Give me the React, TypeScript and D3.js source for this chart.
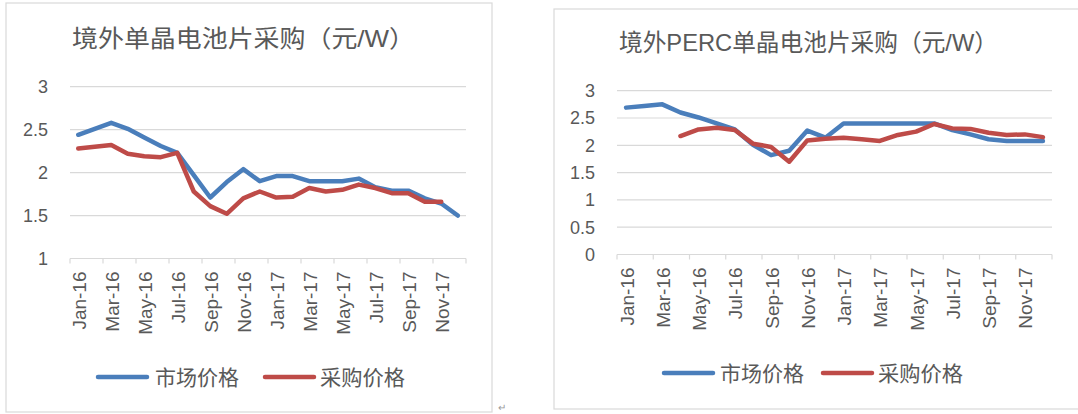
import React from "react";
import * as d3 from "d3";

const months = [
  "Jan-16", "Feb-16", "Mar-16", "Apr-16", "May-16", "Jun-16", "Jul-16", "Aug-16",
  "Sep-16", "Oct-16", "Nov-16", "Dec-16", "Jan-17", "Feb-17", "Mar-17", "Apr-17",
  "May-17", "Jun-17", "Jul-17", "Aug-17", "Sep-17", "Oct-17", "Nov-17", "Dec-17",
];

const seriesNames = ["市场价格", "采购价格"];

// Left chart: 境外单晶电池片采购
const monoMarket = [2.44, 2.51, 2.58, 2.51, 2.41, 2.31, 2.23, 1.97, 1.71, 1.89, 2.04, 1.9,
  1.96, 1.96, 1.9, 1.9, 1.9, 1.93, 1.83, 1.79, 1.79, 1.7, 1.64, 1.5];
const monoPurchase: (number | null)[] = [2.28, 2.3, 2.32, 2.22, 2.19, 2.18, 2.23, 1.78, 1.61, 1.52, 1.7, 1.78,
  1.71, 1.72, 1.82, 1.78, 1.8, 1.86, 1.82, 1.76, 1.76, 1.66, 1.66, null];
const monoTicks = [1, 1.5, 2, 2.5, 3];

// Right chart: 境外PERC单晶电池片采购
const percMarket = [2.69, 2.72, 2.75, 2.6, 2.51, 2.4, 2.29, 2.01, 1.82, 1.9, 2.27, 2.14,
  2.4, 2.4, 2.4, 2.4, 2.4, 2.4, 2.28, 2.2, 2.11, 2.08, 2.08, 2.08];
const percPurchase: (number | null)[] = [null, null, null, 2.17, 2.29, 2.32, 2.28, 2.03, 1.97, 1.7, 2.09, 2.12,
  2.14, 2.11, 2.08, 2.19, 2.25, 2.39, 2.31, 2.3, 2.23, 2.19, 2.2, 2.15];
const percTicks = [0, 0.5, 1, 1.5, 2, 2.5, 3];

const BLUE = "#4A7EBB";
const RED = "#BE4B48";
const GRID = "#D9D9D9";
const TEXT = "#595959";
const FONT = "'Liberation Sans', 'Noto Sans CJK SC', sans-serif";

type ChartProps = {
  title: string;
  titleX: number;
  titleY: number;
  titleLen: number;
  box: { x: number; y: number; w: number; h: number };
  plot: { x0: number; x1: number; y0: number; y1: number };
  domain: [number, number];
  ticks: number[];
  market: (number | null)[];
  purchase: (number | null)[];
  labelGap: number;
  legendY: number;
  legendX: [number, number, number, number];
};

function Chart(p: ChartProps) {
  const x = d3.scaleBand<string>().domain(months).range([p.plot.x0, p.plot.x1]);
  const y = d3.scaleLinear().domain(p.domain).range([p.plot.y1, p.plot.y0]);
  const line = d3
    .line<number | null>()
    .defined((d) => d != null)
    .x((_, i) => (x(months[i]) as number) + x.bandwidth() / 2)
    .y((d) => y(d as number));
  const tickIdx = d3.range(0, months.length + 1, 2);
  return (
    <g>
      <rect x={p.box.x} y={p.box.y} width={p.box.w} height={p.box.h} fill="#fff" stroke={GRID} strokeWidth={1.2} />
      <text
        x={p.titleX}
        y={p.titleY}
        fontSize={24}
        fill={TEXT}
        fontFamily={FONT}
        textLength={p.titleLen}
        lengthAdjust="spacingAndGlyphs"
      >
        {p.title}
      </text>
      {p.ticks.map((t) => (
        <g key={t}>
          {t !== p.domain[0] && (
            <line x1={p.plot.x0} x2={p.plot.x1} y1={y(t)} y2={y(t)} stroke={GRID} strokeWidth={1.2} />
          )}
          <text x={p.plot.x0 - 22} y={y(t)} dy="0.35em" textAnchor="end" fontSize={18} fill={TEXT} fontFamily={FONT}>
            {String(t)}
          </text>
        </g>
      ))}
      <line x1={p.plot.x0} x2={p.plot.x1} y1={p.plot.y1} y2={p.plot.y1} stroke={GRID} strokeWidth={1.2} />
      {tickIdx.map((i) => {
        const xx = i < months.length ? (x(months[i]) as number) : p.plot.x1;
        return <line key={i} x1={xx} x2={xx} y1={p.plot.y1} y2={p.plot.y1 + 5} stroke={GRID} strokeWidth={1.2} />;
      })}
      {months.map((m, i) =>
        i % 2 === 0 ? (
          <text
            key={m}
            transform={`translate(${(x(m) as number) + x.bandwidth() / 2 + 1},${p.plot.y1 + p.labelGap}) rotate(-90)`}
            textAnchor="end"
            dy="0.35em"
            fontSize={19}
            fill={TEXT}
            fontFamily={FONT}
          >
            {m}
          </text>
        ) : null
      )}
      <path d={line(p.market) || ""} fill="none" stroke={BLUE} strokeWidth={4.5} strokeLinejoin="round" strokeLinecap="round" />
      <path d={line(p.purchase) || ""} fill="none" stroke={RED} strokeWidth={4.5} strokeLinejoin="round" strokeLinecap="round" />
      <line x1={p.legendX[0]} x2={p.legendX[0] + 49} y1={p.legendY} y2={p.legendY} stroke={BLUE} strokeWidth={4.5} strokeLinecap="round" />
      <text x={p.legendX[1]} y={p.legendY} dy="0.36em" fontSize={21} fill={TEXT} fontFamily={FONT} textLength={84} lengthAdjust="spacingAndGlyphs">
        {seriesNames[0]}
      </text>
      <line x1={p.legendX[2]} x2={p.legendX[2] + 49} y1={p.legendY} y2={p.legendY} stroke={RED} strokeWidth={4.5} strokeLinecap="round" />
      <text x={p.legendX[3]} y={p.legendY} dy="0.36em" fontSize={21} fill={TEXT} fontFamily={FONT} textLength={85} lengthAdjust="spacingAndGlyphs">
        {seriesNames[1]}
      </text>
    </g>
  );
}

export default function App() {
  return (
    <div>
      <style>{`body{margin:0}`}</style>
      <svg width={1078} height={414} style={{ display: "block", background: "#fff" }}>
        <Chart
          title="境外单晶电池片采购（元/W）"
          titleX={72}
          titleY={47}
          titleLen={343}
          box={{ x: 6, y: 3, w: 486, h: 409 }}
          plot={{ x0: 70, x1: 466, y0: 86.7, y1: 258.5 }}
          domain={[1, 3]}
          ticks={monoTicks}
          market={monoMarket}
          purchase={monoPurchase}
          labelGap={13}
          legendY={377}
          legendX={[98, 155, 265, 320]}
        />
        <Chart
          title="境外PERC单晶电池片采购（元/W）"
          titleX={619}
          titleY={51}
          titleLen={379}
          box={{ x: 554, y: 9, w: 600, h: 400 }}
          plot={{ x0: 617, x1: 1052, y0: 90.7, y1: 254.5 }}
          domain={[0, 3]}
          ticks={percTicks}
          market={percMarket}
          purchase={percPurchase}
          labelGap={13}
          legendY={373}
          legendX={[664, 720, 823, 878]}
        />
        <text x={498} y={411} fontSize={10} fill="#999" fontFamily={FONT}>
          ↵
        </text>
      </svg>
    </div>
  );
}
